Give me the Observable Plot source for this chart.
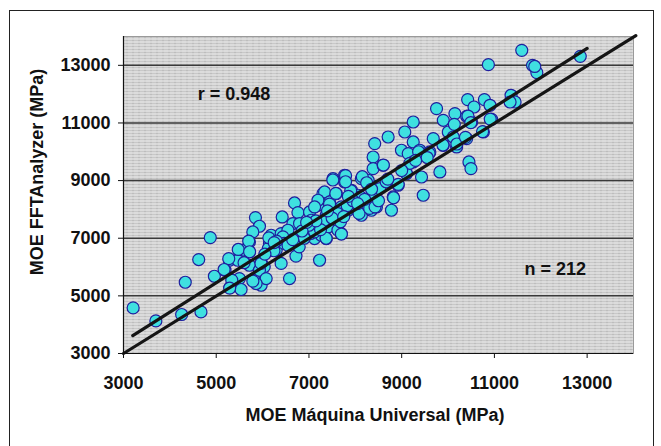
<!DOCTYPE html>
<html>
<head>
<meta charset="utf-8">
<script src="https://cdn.jsdelivr.net/npm/d3@7"></script>
<script src="https://cdn.jsdelivr.net/npm/@observablehq/plot@0.6"></script>
<style>
  html, body { margin: 0; padding: 0; background: #fff; overflow: hidden; }
  #wrap { position: relative; width: 661px; height: 446px; }
  #border { position: absolute; left: 9px; top: 10px; width: 643px; height: 470px; border: 1px solid #222; pointer-events: none; }
</style>
</head>
<body>
<svg width="0" height="0" style="position:absolute">
  <defs>
    <pattern id="hatch" patternUnits="userSpaceOnUse" width="6" height="3">
      <rect x="0" y="0" width="6" height="3" fill="#f0f0f0"></rect>
      <rect x="0" y="0" width="6" height="2" fill="#c8c8c8"></rect>
      <rect x="0" y="0" width="1" height="2" fill="#b2b2b2"></rect>
    </pattern>
  </defs>
</svg>
<div id="wrap"><div id="border"></div></div>
<script>
// MOE Máquina Universal (MPa)
const moeUniversal = [
  5846,5933,5789,4872,5716,5500,5716,5283,5465,4622,5969,5716,5190,4960,5357,5500,5825,5969,5298,5536,4332,3208,3698,4254,4671,6035,
  6689,6423,6762,6654,7013,7195,7302,6185,6148,6401,6546,6293,5932,6077,5860,6581,6438,6797,6942,7050,7229,6797,7121,7266,
  6125,6400,6720,6790,6465,7035,
  8418,8384,8384,7770,7519,8131,8276,7770,7337,7591,7915,8060,8418,7195,7446,7122,7698,8131,8276,7374,7627,7843,8131,8347,7122,7411,7698,7122,7374,
  9752,9249,9897,10148,9067,8708,10005,9681,9249,9897,8995,9391,9607,9141,9249,8600,8671,9104,9428,9824,8924,8527,8816,9465,8455,8779,
  11590,10870,11822,11915,12852,10423,10784,10560,10905,11359,11446,11338,10401,10509,10941,10135,10113,10401,10762,10185,10451,10494,11870,
  6135,6245,7625,7825,8080,8110,8150,8310,7900,5580,5475,5700,5720,5270,5170,5335,5290,5790,5965,7680,7700,7445,7335,7370,7580,7515,7790,7790,8245,8425,
  8605,8665,8825,8925,9100,9175,9365,9590,9890,10190,10375,10430,10490,10745,10910,
  6300,6550,6900,7000,7250,7500,7750,7950,8200,8500,6050,6650,6850,7150,7400,7850,8050,8350,8700,9000,9300,9550,5600,6250,6950
];
// MOE FFTAnalyzer (MPa)
const moeFFT = [
  7717,7416,7218,7023,6871,6583,6524,6236,6236,6260,6178,6063,5889,5681,5542,5601,5542,5369,5289,5220,5473,4582,4131,4353,4443,6010,
  8224,7738,7891,7510,7912,8144,8550,7103,6816,7162,7277,6583,5889,5601,5428,5601,7046,7510,7336,7624,6236,7046,6989,7103,
  6650,6125,6380,6700,6820,7165,
  10284,9819,9417,9185,9070,9070,9011,8952,8605,8550,8664,8491,8550,8317,8258,8085,8085,8203,8085,7797,7856,7971,7797,7971,7565,7391,7162,7218,6989,
  11498,11033,11092,11325,10686,10513,10686,10457,10340,10225,10052,10052,9993,9937,9646,9532,8952,9244,9125,9299,8838,8723,8432,8491,8085,7971,
  13520,13024,13000,12747,13312,11810,11810,11554,11613,11960,11727,11727,11231,11033,11127,10953,10513,10457,10686,10167,9646,9417,12960,
  7015,6565,7280,8130,7860,8440,9135,8035,8650,6590,6610,6900,6530,6290,5915,5545,5270,5510,6125,7570,7145,8185,7630,7000,8555,9020,9170,8960,8925,8090,
  9540,8960,8405,8870,9250,9600,10000,9945,10235,10270,10500,11240,11010,10700,11135,
  6900,6750,7000,7450,7300,7700,7750,8300,8350,8300,6450,6950,7250,7600,7950,8450,8200,8700,9050,9350,9700,9800,6150,6850,7550
];
const xTicks = [3000, 5000, 7000, 9000, 11000, 13000];
const yTicks = [3000, 5000, 7000, 9000, 11000, 13000];
const gridY = [5000, 7000, 9000, 11000, 13000];
// regression line and 1:1 line endpoints
const fitX = [3200, 13000];
const fitY = [3620, 13590];
const idX = [3000, 14050];
const idY = [3000, 14030];
const annText = ["r = 0.948", "n = 212"];
const annX = [4600, 11651];
const annY = [12011, 5907];

const points = moeUniversal.map((x, i) => ({x, y: moeFFT[i]}));
const fitLine = fitX.map((x, i) => ({x, y: fitY[i]}));
const idLine = idX.map((x, i) => ({x, y: idY[i]}));
const ann = annText.map((t, i) => ({t, x: annX[i], y: annY[i]}));

const font = "'Liberation Sans', Arial, Helvetica, sans-serif";
const chart = Plot.plot({
  width: 661,
  height: 446,
  marginLeft: 123,
  marginRight: 28,
  marginTop: 36,
  marginBottom: 93,
  style: {fontFamily: font, fontWeight: "bold", fontSize: "18px", color: "#111", background: "transparent", overflow: "visible"},
  x: {domain: [3000, 14000], ticks: xTicks, tickSize: 5, tickPadding: 18, tickFormat: d => String(d), label: null},
  y: {domain: [3000, 14000], ticks: yTicks, tickSize: 5, tickPadding: 8, tickFormat: d => String(d), label: null},
  marks: [
    Plot.frame({fill: "url(#hatch)", stroke: "#9a9a9a"}),
    Plot.ruleY(gridY, {stroke: "#3a3a3a", strokeWidth: 1.5}),
    Plot.dot(points, {x: "x", y: "y", r: 6, fill: "#3fe0e0", stroke: "#1f1f9e", strokeWidth: 1.2}),
    Plot.line(fitLine, {x: "x", y: "y", stroke: "#151515", strokeWidth: 3.2, clip: false}),
    Plot.line(idLine, {x: "x", y: "y", stroke: "#151515", strokeWidth: 3.2, clip: false}),
    Plot.ruleX([3000], {stroke: "#111", strokeWidth: 1.2}),
    Plot.ruleY([3000], {stroke: "#111", strokeWidth: 1.2}),
    Plot.text(ann, {x: "x", y: "y", text: "t", textAnchor: "start", fontSize: 18, fontWeight: "bold", fill: "#111"})
  ]
});

const svg = d3.select(chart.tagName.toLowerCase() === "svg" ? chart : chart.querySelector("svg"));
svg.append("text")
  .attr("x", 375).attr("y", 421)
  .attr("text-anchor", "middle")
  .attr("fill", "#111")
  .style("font-family", font).style("font-weight", "bold").style("font-size", "18px")
  .text("MOE Máquina Universal (MPa)");
svg.append("text")
  .attr("transform", "translate(43,172) rotate(-90)")
  .attr("text-anchor", "middle")
  .attr("fill", "#111")
  .style("font-family", font).style("font-weight", "bold").style("font-size", "18px")
  .text("MOE FFTAnalyzer (MPa)");

document.getElementById("wrap").prepend(chart);
chart.style.position = "absolute";
chart.style.left = "0px";
chart.style.top = "0px";
</script>
</body>
</html>
